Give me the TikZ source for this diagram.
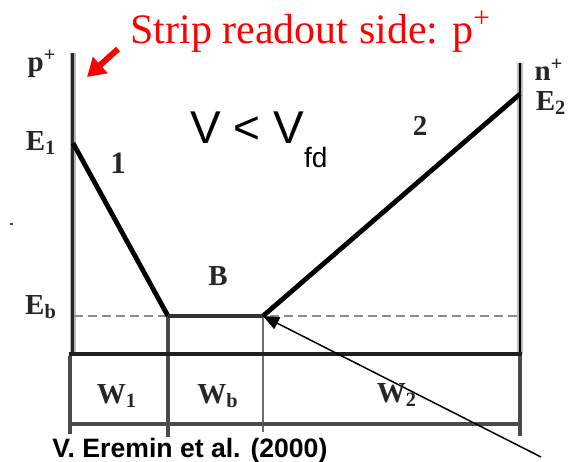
\documentclass[tikz,border=0pt]{standalone}
\usepackage{fontspec}
\setmainfont{Liberation Serif}
\setsansfont{Liberation Sans}
\usetikzlibrary{arrows.meta}
\definecolor{notecolor}{HTML}{FF0000}
\definecolor{gridcolor}{HTML}{4A4A4A}
\tikzset{
  band wall/.style={gray!55,line width=2.8pt},
  band frame/.style={black!88,line width=2.3pt},
  band grid/.style={gridcolor,line width=1.6pt},
  band guide/.style={gray!90,line width=1.4pt,dash pattern=on 4.5pt off 2.5pt},
  band field/.style={black,line width=2.4pt,line join=round},
  band label/.style={font=\fontsize{14.5}{16}\selectfont\bfseries,text=black!85,inner sep=0pt},
  band arrow/.style={black,line width=.75pt,-{Triangle[length=8pt,width=6.5pt]}},
  note arrow/.style={notecolor,line width=3pt,-{Triangle[length=9pt,width=10.5pt]}}
}

\begin{document}
\begin{tikzpicture}[x=.5pt,y=-.5pt]
  \useasboundingbox (0,0) rectangle (575,462);
  \coordinate (ptop) at (73,53);   \coordinate (pbot) at (73,354);
  \coordinate (ntop) at (520,63);  \coordinate (nbot) at (520,354);
  \coordinate (E1) at (73,143);    \coordinate (bl) at (168,316);
  \coordinate (br) at (263,316);   \coordinate (E2) at (520,94);
  \coordinate (gl) at (74,316);    \coordinate (gr) at (520,316);
  \coordinate (tail) at (541,457);
  \coordinate (notetail) at (118,49); \coordinate (notetip) at (87,77);
  \draw[band wall] (ptop)--(pbot);
  \draw[black!85,line width=1.5pt] (ptop)--(pbot);
  \draw[band wall] (ntop)--(nbot);
  \draw[black,line width=1.4pt] (ntop)--(nbot);
  \draw[band guide] (gl)--(gr);
  \draw[band grid] (70,356)--(70,434);
  \draw[band grid] (520,356)--(520,436);
  \draw[band grid] (bl)--(168,437);
  \draw[gridcolor!80,line width=1.2pt] (br)--(263,432);
  \draw[band grid] (69,424)--(521,424);
  \draw[band frame] (69,354)--(522,354);
  \draw[band field] (E1)--(bl);
  \draw[black!80,line width=1.8pt] (bl)--(br);
  \draw[band field] (br)--(E2);
  \fill[black!70] (10,223) rectangle (13,225);
  \node[band label] (p) at (42,64) {p\textsuperscript{+}};
  \node[band label] (n) at (549,70) {n\textsuperscript{+}};
  \node[band label] (e1) at (41,143) {E\textsubscript{1}};
  \node[band label] (e2) at (551,103) {E\textsubscript{2}};
  \node[band label] (eb) at (41,307) {E\textsubscript{b}};
  \node[band label,font=\fontsize{15.5}{17}\selectfont\bfseries] (one) at (118,163) {1};
  \node[band label,font=\fontsize{14.5}{16}\selectfont\bfseries] (two) at (420,126) {2};
  \node[band label] (b) at (218,276) {B};
  \node[band label] (w1) at (117,396) {W\textsubscript{1}};
  \node[band label] (wb) at (218,396) {W\textsubscript{b}};
  \node[band label] (w2) at (397,395) {W\textsubscript{2}};
  \node[font=\sffamily\fontsize{23}{26}\selectfont,anchor=base west,inner sep=0pt] (cond) at (190,143)
    {V < V\raisebox{-12pt}{\fontsize{14}{16}\selectfont fd}};
  \node[text=notecolor,font=\fontsize{21}{24}\selectfont,anchor=base west,inner sep=0pt] (side) at (130,43)
    {Strip readout side: p\textsuperscript{+}};
  \node[font=\sffamily\bfseries\fontsize{13.3}{15}\selectfont,anchor=base west,inner sep=0pt] (ref) at (52,457)
    {V. Eremin et al. (2000)};
  \draw[note arrow] (notetail)--(notetip);
  \draw[band arrow] (tail)--(br);
\end{tikzpicture}
\end{document}
